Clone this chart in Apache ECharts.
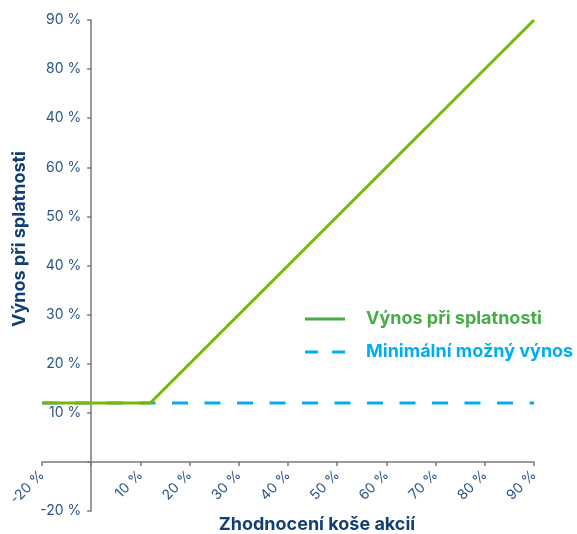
<!DOCTYPE html>
<html>
<head>
<meta charset="utf-8">
<script src="https://cdn.jsdelivr.net/npm/echarts@6/dist/echarts.min.js"></script>
<style>
  html, body { margin: 0; padding: 0; background: #fff; }
  #chart { width: 577px; height: 534px; }
</style>
</head>
<body>
<div id="chart"></div>
<script>
// tick labels as printed in the source (values -10 .. 90 step 10)
var xTickLabels = ['-20 %', '', '10 %', '20 %', '30 %', '40 %', '50 %', '60 %', '70 %', '80 %', '90 %'];
var yTickLabels = ['-20 %', '', '10 %', '20 %', '30 %', '40 %', '50 %', '60 %', '40 %', '80 %', '90 %'];

// Výnos při splatnosti
var payoff = [[-10, 12], [12, 12], [90, 90]];
// Minimální možný výnos
var minimum = [[-10, 12], [90, 12]];

var seriesNames = ['Výnos při splatnosti', 'Minimální možný výnos'];

function tickLabel(list) {
  return function (v) {
    var i = Math.round((v + 10) / 10);
    return list[i] !== undefined ? list[i] : '';
  };
}

var axisColor = '#7a7a7a';
var labelColor = '#2b5587';

var chart = echarts.init(document.getElementById('chart'));
chart.setOption({
  animation: false,
  grid: { left: 42, right: 43, top: 20, bottom: 23, outerBoundsMode: 'none', containLabel: false },
  xAxis: {
    type: 'value',
    min: -10, max: 90, interval: 10,
    offset: -49.1,
    splitLine: { show: false },
    axisLine: { onZero: false, lineStyle: { color: axisColor, width: 1.5 } },
    axisTick: { show: true, length: 4, lineStyle: { color: axisColor, width: 1.5 } },
    axisLabel: {
      rotate: 45, margin: 11,
      color: labelColor, fontFamily: 'Inter', fontSize: 14,
      showMinLabel: true, showMaxLabel: true,
      formatter: tickLabel(xTickLabels)
    }
  },
  yAxis: {
    type: 'value',
    min: -10, max: 90, interval: 10,
    offset: -49.2,
    splitLine: { show: false },
    axisLine: { onZero: false, lineStyle: { color: axisColor, width: 1.5 } },
    axisTick: { show: true, length: 4, lineStyle: { color: axisColor, width: 1.5 } },
    axisLabel: {
      margin: 10,
      color: labelColor, fontFamily: 'Inter', fontSize: 14,
      showMinLabel: true, showMaxLabel: true,
      formatter: tickLabel(yTickLabels)
    }
  },
  legend: {
    orient: 'vertical',
    left: 305, top: 310, padding: 0,
    itemWidth: 40, itemHeight: 18, itemGap: 15,
    selectedMode: false,
    data: [
      { name: seriesNames[0], icon: 'path://M0,0H40V3H0Z',
        itemStyle: { color: '#45ad47' },
        textStyle: { color: '#45ad47' } },
      { name: seriesNames[1], icon: 'path://M0,0H13V3H0Z M27,0H40V3H27Z',
        itemStyle: { color: '#00aeef' },
        textStyle: { color: '#00aeef' } }
    ],
    textStyle: { fontFamily: 'Inter', fontSize: 18, fontWeight: 'bold', padding: [0, 0, 0, 16] }
  },
  graphic: [
    { type: 'text', x: 20, y: 239, rotation: Math.PI / 2,
      style: { text: 'Výnos při splatnosti', fill: '#123f73', font: 'bold 18px Inter',
               textAlign: 'center', textVerticalAlign: 'middle' } },
    { type: 'text', x: 317, y: 525,
      style: { text: 'Zhodnocení koše akcií', fill: '#123f73', font: 'bold 18px Inter',
               textAlign: 'center', textVerticalAlign: 'middle' } }
  ],
  series: [
    {
      name: seriesNames[1], type: 'line', data: minimum, symbol: 'none', z: 2,
      lineStyle: { color: '#00aeef', width: 3, type: [16, 16.5] },
      itemStyle: { color: '#00aeef' }
    },
    {
      name: seriesNames[0], type: 'line', data: payoff, symbol: 'none', z: 3,
      lineStyle: { color: '#7ab800', width: 3 },
      itemStyle: { color: '#7ab800' }
    }
  ]
});
</script>
</body>
</html>
